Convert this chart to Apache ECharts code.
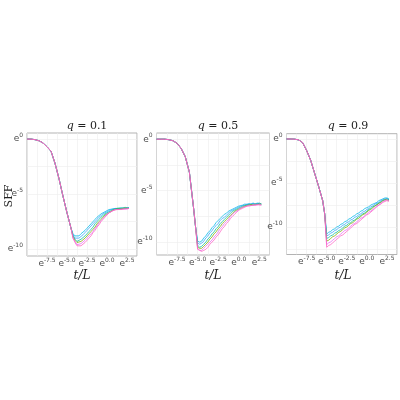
<!DOCTYPE html>
<html><head><meta charset="utf-8">
<script src="https://cdn.jsdelivr.net/npm/echarts@6/dist/echarts.min.js"></script>
<style>html,body{margin:0;padding:0;background:#fff}#c{width:400px;height:400px}</style>
</head><body><div id="c"></div>
<script>
const titles = ['0.1', '0.5', '0.9'];
const seriesNames = ['s1', 's2', 's3', 's4', 's5', 's6'];
const colors = ['#00B8E7', '#35A2FF', '#00C19F', '#7CAE00', '#E76BF3', '#FF61C3'];
const xTicks = [-7.5, -5, -2.5, 0, 2.5];
const yTicks = [0, -5, -10];
const yGridLines = [0, -2.5, -5, -7.5, -10, -12.5];

// panel 1
const p1HeadX = [-10, -9.5, -9, -8.5, -8, -7.5, -7, -6.5, -6, -5.5, -5, -4.5];
const p1HeadY = [0, 0, -0.05, -0.15, -0.35, -0.7, -1.1, -2.2, -3.6, -5.2, -6.7, -8.1];
const p1TailX = [-4.25, -4, -3.75, -3.5, -3.25, -3, -2.75, -2.5, -2.25, -2, -1.75, -1.5, -1.25, -1, -0.75, -0.5, -0.25, 0, 0.25, 0.5, 0.75, 1, 1.25, 1.5, 1.75, 2, 2.25, 2.5, 2.75];
const p1s1 = [-8.6,-8.8,-8.9,-8.8,-8.6,-8.5,-8.3,-8.1,-7.9,-7.7,-7.5,-7.3,-7.1,-7.0,-6.8,-6.7,-6.6,-6.5,-6.4,-6.3,-6.35,-6.25,-6.3,-6.2,-6.3,-6.25,-6.2,-6.3,-6.25];
const p1s2 = [-8.7,-9.0,-9.1,-9.0,-8.9,-8.7,-8.5,-8.3,-8.1,-7.9,-7.7,-7.5,-7.3,-7.1,-7.0,-6.8,-6.7,-6.6,-6.5,-6.4,-6.35,-6.3,-6.25,-6.3,-6.2,-6.3,-6.25,-6.3,-6.2];
const p1s3 = [-8.8,-9.1,-9.3,-9.2,-9.1,-9.0,-8.8,-8.6,-8.4,-8.2,-8.0,-7.7,-7.5,-7.3,-7.1,-7.0,-6.8,-6.7,-6.6,-6.5,-6.4,-6.35,-6.3,-6.35,-6.25,-6.3,-6.3,-6.25,-6.3];
const p1s4 = [-8.9,-9.2,-9.4,-9.4,-9.3,-9.2,-9.0,-8.8,-8.6,-8.4,-8.2,-8.0,-7.7,-7.5,-7.3,-7.1,-6.9,-6.8,-6.7,-6.55,-6.45,-6.4,-6.35,-6.3,-6.35,-6.3,-6.25,-6.3,-6.3];
const p1s5 = [-9.0,-9.3,-9.6,-9.6,-9.5,-9.4,-9.2,-9.0,-8.8,-8.6,-8.4,-8.1,-7.9,-7.6,-7.4,-7.2,-7.0,-6.8,-6.7,-6.6,-6.5,-6.4,-6.35,-6.4,-6.3,-6.35,-6.3,-6.35,-6.3];
const p1s6 = [-9.0,-9.4,-9.7,-9.8,-9.7,-9.6,-9.4,-9.2,-9.0,-8.8,-8.5,-8.3,-8.0,-7.8,-7.5,-7.3,-7.1,-6.9,-6.7,-6.6,-6.5,-6.45,-6.4,-6.35,-6.4,-6.3,-6.35,-6.4,-6.3];

// panel 2
const p2HeadX = [-10, -9.5, -9, -8.5, -8, -7.5, -7, -6.5, -6, -5.5, -5.25];
const p2HeadY = [0, 0, 0, -0.05, -0.15, -0.4, -0.9, -1.7, -3.2, -6.6, -8.5];
const p2TailX = [-5,-4.75,-4.5,-4.25,-4,-3.75,-3.5,-3.25,-3,-2.75,-2.5,-2.25,-2,-1.75,-1.5,-1.25,-1,-0.75,-0.5,-0.25,0,0.25,0.5,0.75,1,1.25,1.5,1.75,2,2.25,2.5,2.75];
const p2s1 = [-9.9,-10.0,-9.9,-9.6,-9.4,-9.1,-8.9,-8.6,-8.4,-8.1,-7.9,-7.7,-7.5,-7.3,-7.2,-7.0,-6.9,-6.8,-6.7,-6.6,-6.5,-6.45,-6.4,-6.3,-6.35,-6.25,-6.3,-6.2,-6.3,-6.25,-6.2,-6.3];
const p2s2 = [-10.1,-10.2,-10.1,-9.9,-9.6,-9.4,-9.1,-8.9,-8.6,-8.4,-8.2,-7.9,-7.7,-7.6,-7.4,-7.2,-7.0,-6.9,-6.8,-6.7,-6.6,-6.5,-6.45,-6.4,-6.3,-6.35,-6.3,-6.25,-6.3,-6.2,-6.3,-6.25];
const p2s3 = [-10.3,-10.5,-10.4,-10.2,-10.0,-9.7,-9.5,-9.2,-9.0,-8.7,-8.5,-8.2,-8.0,-7.8,-7.6,-7.4,-7.2,-7.0,-6.9,-6.8,-6.7,-6.6,-6.5,-6.45,-6.4,-6.35,-6.4,-6.3,-6.35,-6.3,-6.25,-6.35];
const p2s4 = [-10.5,-10.6,-10.6,-10.4,-10.2,-10.0,-9.7,-9.5,-9.2,-9.0,-8.7,-8.5,-8.2,-8.0,-7.8,-7.6,-7.4,-7.2,-7.0,-6.9,-6.8,-6.7,-6.6,-6.5,-6.45,-6.4,-6.35,-6.4,-6.3,-6.35,-6.3,-6.3];
const p2s5 = [-10.6,-10.8,-10.8,-10.6,-10.4,-10.2,-10.0,-9.8,-9.5,-9.3,-9.0,-8.7,-8.5,-8.2,-8.0,-7.8,-7.5,-7.3,-7.1,-7.0,-6.8,-6.7,-6.6,-6.55,-6.5,-6.4,-6.45,-6.4,-6.35,-6.4,-6.3,-6.4];
const p2s6 = [-10.7,-10.8,-10.9,-10.8,-10.7,-10.5,-10.2,-10.0,-9.8,-9.5,-9.3,-9.0,-8.7,-8.5,-8.2,-8.0,-7.7,-7.5,-7.3,-7.1,-6.9,-6.8,-6.7,-6.6,-6.5,-6.5,-6.45,-6.4,-6.45,-6.35,-6.4,-6.4];

// panel 3
const p3HeadX = [-10, -9.5, -9, -8.5, -8, -7.5, -7, -6.5, -6, -5.5, -5.25];
const p3HeadY = [0, 0, -0.02, -0.1, -0.4, -1.3, -2.4, -3.9, -5.4, -7.0, -8.5];
const p3TailX = p2TailX;
const p3s1 = [-10.8,-10.6,-10.5,-10.3,-10.2,-10.0,-9.9,-9.7,-9.6,-9.4,-9.3,-9.1,-9.0,-8.8,-8.7,-8.5,-8.4,-8.2,-8.1,-7.9,-7.8,-7.7,-7.5,-7.4,-7.3,-7.2,-7.0,-6.9,-6.8,-6.7,-6.7,-6.8];
const p3s2 = [-11.0,-10.9,-10.7,-10.6,-10.4,-10.3,-10.1,-10.0,-9.8,-9.7,-9.5,-9.4,-9.2,-9.1,-8.9,-8.8,-8.6,-8.5,-8.3,-8.2,-8.0,-7.9,-7.7,-7.6,-7.4,-7.3,-7.2,-7.0,-6.9,-6.8,-6.8,-6.9];
const p3s3 = [-11.3,-11.2,-11.0,-10.9,-10.7,-10.6,-10.4,-10.3,-10.1,-9.9,-9.8,-9.6,-9.5,-9.3,-9.2,-9.0,-8.8,-8.7,-8.5,-8.4,-8.2,-8.0,-7.9,-7.7,-7.6,-7.4,-7.3,-7.1,-7.0,-6.9,-6.8,-6.9];
const p3s4 = [-11.6,-11.5,-11.3,-11.1,-11.0,-10.8,-10.6,-10.5,-10.3,-10.1,-10.0,-9.8,-9.6,-9.5,-9.3,-9.1,-9.0,-8.8,-8.6,-8.5,-8.3,-8.1,-8.0,-7.8,-7.6,-7.5,-7.3,-7.2,-7.0,-6.9,-6.9,-7.0];
const p3s5 = [-12.0,-11.8,-11.7,-11.5,-11.3,-11.1,-11.0,-10.8,-10.6,-10.4,-10.3,-10.1,-9.9,-9.7,-9.6,-9.4,-9.2,-9.0,-8.9,-8.7,-8.5,-8.3,-8.2,-8.0,-7.8,-7.6,-7.5,-7.3,-7.1,-7.0,-6.9,-7.0];
const p3s6 = [-12.3,-12.1,-12.0,-11.8,-11.6,-11.4,-11.2,-11.0,-10.9,-10.7,-10.5,-10.3,-10.1,-9.9,-9.7,-9.6,-9.4,-9.2,-9.0,-8.8,-8.6,-8.5,-8.3,-8.1,-7.9,-7.7,-7.5,-7.4,-7.2,-7.1,-7.0,-7.1];

const panels = [
  {headX: p1HeadX, headY: p1HeadY, tailX: p1TailX, s: [p1s1,p1s2,p1s3,p1s4,p1s5,p1s6]},
  {headX: p2HeadX, headY: p2HeadY, tailX: p2TailX, s: [p2s1,p2s2,p2s3,p2s4,p2s5,p2s6]},
  {headX: p3HeadX, headY: p3HeadY, tailX: p3TailX, s: [p3s1,p3s2,p3s3,p3s4,p3s5,p3s6]}
];
const layout = [
  {left: 27, width: 110, top: 133, height: 123, ymin: -10.625, ymax: 0.555},
  {left: 156.5, width: 113, top: 133, height: 122, ymin: -11.25, ymax: 0.6},
  {left: 286.5, width: 113, top: 133.7, height: 120.8, ymin: -13.125, ymax: 0.6}
];

const rich = {b: {fontSize: 9, color: '#4d4d4d', fontFamily: 'DejaVu Sans'}, s: {fontSize: 6, color: '#4d4d4d', fontFamily: 'DejaVu Sans', padding: [0,0,7,0]}};
const near = (v, arr) => arr.some(t => Math.abs(t - v) < 1e-6);
const fmtNum = v => (Number.isInteger(v) ? v.toFixed(1) : String(v));

const grid = [], xAxis = [], yAxis = [], series = [], titleArr = [];
layout.forEach((L, i) => {
  grid.push({left: L.left, width: L.width, top: L.top, height: L.height, show: true, borderColor: '#b3b3b3', borderWidth: 1, backgroundColor: '#fff'});
  xAxis.push({type: 'value', gridIndex: i, min: -10, max: 3.75, interval: 1.25,
    axisLine: {show: false}, axisTick: {show: false},
    splitLine: {lineStyle: {color: '#ededed', width: 0.6}},
    axisLabel: {margin: 1, rich, formatter: v => near(v, xTicks) ? '{b|e}{s|' + fmtNum(v) + '}' : ''}});
  yAxis.push({type: 'value', gridIndex: i, min: L.ymin, max: L.ymax, interval: 0.625,
    axisLine: {show: false}, axisTick: {show: false},
    splitLine: {show: false},
    axisLabel: {margin: 4, rich, showMaxLabel: false, formatter: v => near(v, yTicks) ? '{b|e}{s|' + v + '}' : ''}});
  titleArr.push({text: '{i|q} = ' + titles[i], left: L.left + L.width / 2, top: 116, textAlign: 'center',
    textStyle: {fontFamily: 'DejaVu Serif', fontSize: 11, fontWeight: 'normal', color: '#222',
      rich: {i: {fontFamily: 'DejaVu Serif', fontStyle: 'italic', fontSize: 11, color: '#222'}}}});
  const P = panels[i];
  P.s.forEach((tail, k) => {
    const data = P.headX.map((x, j) => [x, P.headY[j]]).concat(P.tailX.map((x, j) => [x, tail[j]]));
    const s = {type: 'line', name: seriesNames[k] + '_' + i, xAxisIndex: i, yAxisIndex: i, data,
      showSymbol: false, smooth: false, silent: true,
      lineStyle: {color: colors[k], width: 0.9, opacity: 0.85}};
    if (k === 0) {
      s.markLine = {silent: true, symbol: 'none', label: {show: false}, animation: false, z: 0,
        lineStyle: {color: '#ededed', width: 0.6, type: 'solid'},
        data: yGridLines.filter(v => v > L.ymin && v < L.ymax).map(v => ({yAxis: v}))};
    }
    series.push(s);
  });
});
const chart = echarts.init(document.getElementById('c'), null, {renderer: 'canvas'});
chart.setOption({animation: false, title: titleArr, grid, xAxis, yAxis, series,
  graphic: [
    {type: 'text', x: 9, y: 196, rotation: Math.PI / 2, style: {text: 'SFF', font: '11px "DejaVu Serif"', fill: '#222', align: 'center', verticalAlign: 'middle'}}
  ].concat([0,1,2].map(i => ({type: 'text', x: layout[i].left + layout[i].width / 2, y: 276,
    style: {text: 't/L', font: 'italic 12px "DejaVu Serif"', fill: '#222', align: 'center', verticalAlign: 'middle'}})))
});
</script></body></html>
